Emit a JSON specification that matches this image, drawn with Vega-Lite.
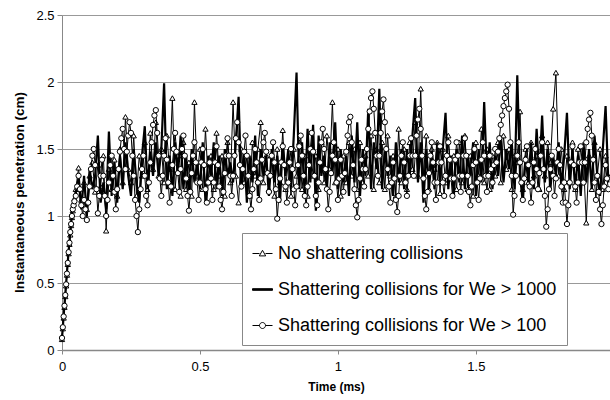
{
"$schema":"https://vega.github.io/schema/vega-lite/v6.json",
"width":548,"height":335,
"autosize":{"type":"none"},
"padding":{"left":62,"top":15,"right":0,"bottom":50},
"config":{"view":{"stroke":null},"font":"Liberation Sans",
"axis":{"labelColor":"#000","titleColor":"#000","labelFontSize":13,"titleFontSize":12,"titleFontWeight":"bold","domainColor":"#888","tickColor":"#888","labelFont":"Liberation Sans","titleFont":"Liberation Sans"}},
"datasets":{
"main":[
{"t":0,"a":0.08,"b":0.09},{"t":0.003,"a":0.16,"b":0.17},{"t":0.006,"a":0.24,"b":0.26},{"t":0.009,"a":0.32,"b":0.34},{"t":0.012,"a":0.40,"b":0.42},{"t":0.015,"a":0.48,"b":0.50},{"t":0.018,"a":0.56,"b":0.58},{"t":0.021,"a":0.64,"b":0.66},{"t":0.024,"a":0.72,"b":0.74},{"t":0.027,"a":0.79,"b":0.81},{"t":0.03,"a":0.86,"b":0.88},{"t":0.033,"a":0.93,"b":0.95},{"t":0.036,"a":0.99,"b":1.01},{"t":0.039,"a":1.04,"b":1.06},{"t":0.042,"a":1.09,"b":1.10},{"t":0.045,"a":1.13,"b":1.14},
{"t":0.05,"a":1.20,"b":1.18},{"t":0.06,"a":1.36,"b":1.28},{"t":0.07,"a":1.12,"b":1.05},{"t":0.08,"a":1.25,"b":1.30},{"t":0.09,"a":1.05,"b":1.00},{"t":0.10,"a":1.30,"b":1.35},{"t":0.11,"a":1.40,"b":1.20},{"t":0.12,"a":1.18,"b":1.30},{"t":0.13,"a":1.38,"b":1.60},{"t":0.14,"a":1.22,"b":1.10},
{"t":0.15,"a":1.45,"b":1.25},{"t":0.16,"a":0.89,"b":1.05},{"t":0.17,"a":1.35,"b":1.63},{"t":0.18,"a":1.20,"b":1.15},{"t":0.19,"a":1.42,"b":1.40},{"t":0.20,"a":1.15,"b":1.10},{"t":0.21,"a":1.50,"b":1.45},{"t":0.22,"a":1.25,"b":1.20},{"t":0.23,"a":1.74,"b":1.55},{"t":0.24,"a":1.35,"b":1.30},
{"t":0.25,"a":1.25,"b":1.15},{"t":0.26,"a":1.60,"b":1.50},{"t":0.27,"a":1.15,"b":1.25},{"t":0.28,"a":1.45,"b":1.10},{"t":0.29,"a":1.30,"b":1.45},{"t":0.30,"a":1.55,"b":1.67},{"t":0.31,"a":1.20,"b":1.20},{"t":0.32,"a":1.62,"b":1.48},{"t":0.33,"a":1.35,"b":1.30},{"t":0.34,"a":1.70,"b":1.55},
{"t":0.35,"a":1.30,"b":1.30},{"t":0.36,"a":1.50,"b":1.50},{"t":0.37,"a":1.25,"b":1.99},{"t":0.38,"a":1.60,"b":1.20},{"t":0.39,"a":1.35,"b":1.45},{"t":0.40,"a":1.88,"b":1.15},{"t":0.41,"a":1.20,"b":1.55},{"t":0.42,"a":1.45,"b":1.30},{"t":0.43,"a":1.15,"b":1.60},{"t":0.44,"a":1.55,"b":1.20},
{"t":0.45,"a":1.20,"b":1.45},{"t":0.46,"a":1.40,"b":1.15},{"t":0.47,"a":1.15,"b":1.50},{"t":0.48,"a":1.85,"b":1.25},{"t":0.49,"a":1.30,"b":1.40},{"t":0.50,"a":1.50,"b":1.20},{"t":0.51,"a":1.20,"b":1.55},{"t":0.52,"a":1.65,"b":1.10},{"t":0.53,"a":1.25,"b":1.45},{"t":0.54,"a":1.45,"b":1.30},
{"t":0.55,"a":1.20,"b":1.55},{"t":0.56,"a":1.62,"b":1.20},{"t":0.57,"a":1.30,"b":1.45},{"t":0.58,"a":1.45,"b":1.15},{"t":0.59,"a":1.15,"b":1.50},{"t":0.60,"a":1.55,"b":1.30},{"t":0.61,"a":1.25,"b":1.40},{"t":0.62,"a":1.85,"b":1.25},{"t":0.63,"a":1.30,"b":1.55},{"t":0.64,"a":1.10,"b":1.89},
{"t":0.65,"a":1.50,"b":1.20},{"t":0.66,"a":1.25,"b":1.50},{"t":0.67,"a":1.45,"b":1.10},{"t":0.68,"a":1.15,"b":1.45},{"t":0.69,"a":1.55,"b":1.25},{"t":0.70,"a":1.30,"b":1.60},{"t":0.71,"a":1.50,"b":1.15},{"t":0.72,"a":1.70,"b":1.50},{"t":0.73,"a":1.25,"b":1.30},{"t":0.74,"a":1.45,"b":1.45},
{"t":0.75,"a":1.20,"b":1.15},{"t":0.76,"a":1.45,"b":1.50},{"t":0.77,"a":1.15,"b":1.25},{"t":0.78,"a":1.50,"b":1.45},{"t":0.79,"a":1.25,"b":1.10},{"t":0.80,"a":1.64,"b":1.55},{"t":0.81,"a":1.20,"b":1.30},{"t":0.82,"a":1.40,"b":1.50},{"t":0.83,"a":1.15,"b":1.20},{"t":0.84,"a":1.50,"b":1.60},
{"t":0.85,"a":1.30,"b":2.07},{"t":0.86,"a":1.55,"b":1.20},{"t":0.87,"a":1.20,"b":1.55},{"t":0.88,"a":1.45,"b":1.15},{"t":0.89,"a":1.15,"b":1.65},{"t":0.90,"a":1.50,"b":1.25},{"t":0.91,"a":1.30,"b":1.68},{"t":0.92,"a":1.45,"b":1.04},{"t":0.93,"a":1.20,"b":1.60},{"t":0.94,"a":1.55,"b":1.30},
{"t":0.95,"a":1.25,"b":1.45},{"t":0.96,"a":1.60,"b":1.20},{"t":0.97,"a":1.35,"b":1.55},{"t":0.98,"a":1.85,"b":1.30},{"t":0.99,"a":1.25,"b":1.70},{"t":1.00,"a":1.50,"b":1.20},{"t":1.01,"a":1.15,"b":1.50},{"t":1.02,"a":1.45,"b":1.25},{"t":1.03,"a":1.25,"b":1.45},{"t":1.04,"a":1.55,"b":1.15},
{"t":1.05,"a":1.30,"b":1.60},{"t":1.06,"a":1.50,"b":1.25},{"t":1.07,"a":1.20,"b":1.70},{"t":1.08,"a":1.55,"b":1.15},{"t":1.09,"a":1.25,"b":1.50},{"t":1.10,"a":1.45,"b":1.30},{"t":1.11,"a":1.30,"b":1.80},{"t":1.12,"a":1.60,"b":1.20},{"t":1.13,"a":1.20,"b":1.55},{"t":1.14,"a":1.50,"b":1.35},
{"t":1.15,"a":1.25,"b":1.95},{"t":1.16,"a":1.55,"b":1.20},{"t":1.17,"a":1.20,"b":1.50},{"t":1.18,"a":1.60,"b":1.30},{"t":1.19,"a":1.30,"b":1.45},{"t":1.20,"a":1.45,"b":1.15},{"t":1.21,"a":1.15,"b":1.55},{"t":1.22,"a":1.65,"b":1.25},{"t":1.23,"a":1.25,"b":1.50},{"t":1.24,"a":1.50,"b":1.20},
{"t":1.25,"a":1.20,"b":1.50},{"t":1.26,"a":1.55,"b":1.30},{"t":1.27,"a":1.35,"b":1.60},{"t":1.28,"a":1.70,"b":1.88},{"t":1.29,"a":1.30,"b":1.25},{"t":1.30,"a":1.95,"b":1.55},{"t":1.31,"a":1.30,"b":1.10},{"t":1.32,"a":1.60,"b":1.50},{"t":1.33,"a":1.20,"b":1.20},{"t":1.34,"a":1.50,"b":1.45},
{"t":1.35,"a":1.35,"b":1.20},{"t":1.36,"a":1.55,"b":1.55},{"t":1.37,"a":1.17,"b":1.25},{"t":1.38,"a":1.50,"b":1.50},{"t":1.39,"a":1.25,"b":1.77},{"t":1.40,"a":1.60,"b":1.20},{"t":1.41,"a":1.30,"b":1.45},{"t":1.42,"a":1.45,"b":1.15},{"t":1.43,"a":1.20,"b":1.50},{"t":1.44,"a":1.55,"b":1.25},
{"t":1.45,"a":1.25,"b":1.60},{"t":1.46,"a":1.60,"b":1.20},{"t":1.47,"a":1.20,"b":1.45},{"t":1.48,"a":1.45,"b":1.30},{"t":1.49,"a":1.15,"b":1.55},{"t":1.50,"a":1.55,"b":1.15},{"t":1.51,"a":1.30,"b":1.50},{"t":1.52,"a":1.65,"b":1.25},{"t":1.53,"a":1.25,"b":1.85},{"t":1.54,"a":1.50,"b":1.30},
{"t":1.55,"a":1.20,"b":1.55},{"t":1.56,"a":1.45,"b":1.20},{"t":1.57,"a":1.30,"b":1.45},{"t":1.58,"a":1.55,"b":1.30},{"t":1.59,"a":1.25,"b":1.60},{"t":1.60,"a":1.60,"b":1.25},{"t":1.61,"a":1.35,"b":1.50},{"t":1.62,"a":1.50,"b":1.35},{"t":1.63,"a":1.20,"b":1.55},{"t":1.64,"a":1.45,"b":1.20},
{"t":1.65,"a":1.40,"b":2.05},{"t":1.66,"a":1.78,"b":1.30},{"t":1.67,"a":1.20,"b":1.10},{"t":1.68,"a":1.50,"b":1.45},{"t":1.69,"a":1.25,"b":1.25},{"t":1.70,"a":1.55,"b":1.55},{"t":1.71,"a":1.30,"b":1.20},{"t":1.72,"a":1.45,"b":1.65},{"t":1.73,"a":1.20,"b":1.30},{"t":1.74,"a":1.60,"b":1.75},
{"t":1.75,"a":1.30,"b":1.25},{"t":1.76,"a":1.55,"b":1.50},{"t":1.77,"a":1.40,"b":1.20},{"t":1.78,"a":1.80,"b":1.45},{"t":1.79,"a":2.07,"b":1.30},{"t":1.80,"a":1.30,"b":1.55},{"t":1.81,"a":1.50,"b":1.20},{"t":1.82,"a":1.20,"b":1.45},{"t":1.83,"a":1.45,"b":1.77},{"t":1.84,"a":1.25,"b":1.20},
{"t":1.85,"a":1.55,"b":1.50},{"t":1.86,"a":1.20,"b":1.20},{"t":1.87,"a":1.50,"b":1.45},{"t":1.88,"a":1.25,"b":1.15},{"t":1.89,"a":1.40,"b":1.55},{"t":1.90,"a":0.95,"b":1.25},{"t":1.91,"a":1.45,"b":1.50},{"t":1.92,"a":1.20,"b":1.20},{"t":1.93,"a":1.55,"b":1.60},{"t":1.94,"a":1.30,"b":1.30},
{"t":1.95,"a":1.50,"b":1.15},{"t":1.96,"a":1.20,"b":1.50},{"t":1.97,"a":1.45,"b":1.82},{"t":1.98,"a":1.30,"b":1.25}
],
"cser":[
{"t":0,"c":0.09},{"t":0.003,"c":0.17},{"t":0.006,"c":0.25},{"t":0.009,"c":0.33},{"t":0.012,"c":0.41},{"t":0.015,"c":0.49},{"t":0.018,"c":0.57},{"t":0.021,"c":0.65},{"t":0.024,"c":0.73},{"t":0.027,"c":0.80},{"t":0.03,"c":0.88},{"t":0.033,"c":0.94},{"t":0.036,"c":1.00},{"t":0.039,"c":1.05},{"t":0.042,"c":1.08},{"t":0.045,"c":1.11},
{"t":0.050,"c":1.15},{"t":0.055,"c":1.22},{"t":0.060,"c":1.30},{"t":0.065,"c":1.20},{"t":0.070,"c":1.08},{"t":0.075,"c":1.00},{"t":0.080,"c":1.12},{"t":0.085,"c":1.05},{"t":0.090,"c":0.97},{"t":0.095,"c":1.10},{"t":0.100,"c":1.22},{"t":0.105,"c":1.35},{"t":0.110,"c":1.45},{"t":0.115,"c":1.50},{"t":0.120,"c":1.38},{"t":0.125,"c":1.20},{"t":0.130,"c":1.02},{"t":0.135,"c":1.15},{"t":0.140,"c":1.30},{"t":0.145,"c":1.42},
{"t":0.150,"c":1.30},{"t":0.155,"c":1.15},{"t":0.160,"c":1.00},{"t":0.165,"c":1.12},{"t":0.170,"c":1.25},{"t":0.175,"c":1.38},{"t":0.180,"c":1.45},{"t":0.185,"c":1.30},{"t":0.190,"c":1.18},{"t":0.195,"c":1.05},{"t":0.200,"c":1.20},{"t":0.205,"c":1.35},{"t":0.210,"c":1.48},{"t":0.215,"c":1.58},{"t":0.220,"c":1.65},{"t":0.225,"c":1.50},{"t":0.230,"c":1.35},{"t":0.235,"c":1.48},{"t":0.240,"c":1.60},{"t":0.245,"c":1.70},
{"t":0.250,"c":1.62},{"t":0.255,"c":1.45},{"t":0.260,"c":1.30},{"t":0.265,"c":1.12},{"t":0.270,"c":1.00},{"t":0.275,"c":0.88},{"t":0.280,"c":1.05},{"t":0.285,"c":1.20},{"t":0.290,"c":1.35},{"t":0.295,"c":1.45},{"t":0.300,"c":1.30},{"t":0.305,"c":1.15},{"t":0.310,"c":1.08},{"t":0.315,"c":1.25},{"t":0.320,"c":1.40},{"t":0.325,"c":1.55},{"t":0.330,"c":1.68},{"t":0.335,"c":1.75},{"t":0.340,"c":1.79},{"t":0.345,"c":1.62},
{"t":0.350,"c":1.45},{"t":0.355,"c":1.28},{"t":0.360,"c":1.15},{"t":0.365,"c":1.30},{"t":0.370,"c":1.45},{"t":0.375,"c":1.58},{"t":0.380,"c":1.42},{"t":0.385,"c":1.25},{"t":0.390,"c":1.10},{"t":0.395,"c":1.22},{"t":0.400,"c":1.38},{"t":0.405,"c":1.50},{"t":0.410,"c":1.62},{"t":0.415,"c":1.48},{"t":0.420,"c":1.32},{"t":0.425,"c":1.18},{"t":0.430,"c":1.35},{"t":0.435,"c":1.50},{"t":0.440,"c":1.60},{"t":0.445,"c":1.45},
{"t":0.450,"c":1.28},{"t":0.455,"c":1.15},{"t":0.460,"c":1.04},{"t":0.465,"c":1.18},{"t":0.470,"c":1.32},{"t":0.475,"c":1.45},{"t":0.480,"c":1.55},{"t":0.485,"c":1.40},{"t":0.490,"c":1.25},{"t":0.495,"c":1.12},{"t":0.500,"c":1.25},{"t":0.505,"c":1.40},{"t":0.510,"c":1.50},{"t":0.515,"c":1.38},{"t":0.520,"c":1.20},{"t":0.525,"c":1.10},{"t":0.530,"c":1.25},{"t":0.535,"c":1.40},{"t":0.540,"c":1.28},{"t":0.545,"c":1.12},
{"t":0.550,"c":1.25},{"t":0.555,"c":1.40},{"t":0.560,"c":1.52},{"t":0.565,"c":1.38},{"t":0.570,"c":1.22},{"t":0.575,"c":1.12},{"t":0.580,"c":1.05},{"t":0.585,"c":1.18},{"t":0.590,"c":1.32},{"t":0.595,"c":1.45},{"t":0.600,"c":1.58},{"t":0.605,"c":1.45},{"t":0.610,"c":1.30},{"t":0.615,"c":1.15},{"t":0.620,"c":1.30},{"t":0.625,"c":1.45},{"t":0.630,"c":1.58},{"t":0.635,"c":1.70},{"t":0.640,"c":1.55},{"t":0.645,"c":1.38},
{"t":0.650,"c":1.22},{"t":0.655,"c":1.35},{"t":0.660,"c":1.48},{"t":0.665,"c":1.60},{"t":0.670,"c":1.45},{"t":0.675,"c":1.30},{"t":0.680,"c":1.15},{"t":0.685,"c":1.05},{"t":0.690,"c":1.20},{"t":0.695,"c":1.35},{"t":0.700,"c":1.50},{"t":0.705,"c":1.40},{"t":0.710,"c":1.25},{"t":0.715,"c":1.12},{"t":0.720,"c":1.28},{"t":0.725,"c":1.42},{"t":0.730,"c":1.55},{"t":0.735,"c":1.62},{"t":0.740,"c":1.48},{"t":0.745,"c":1.32},
{"t":0.750,"c":1.18},{"t":0.755,"c":1.30},{"t":0.760,"c":1.45},{"t":0.765,"c":1.55},{"t":0.770,"c":1.40},{"t":0.775,"c":1.20},{"t":0.780,"c":0.98},{"t":0.785,"c":1.12},{"t":0.790,"c":1.28},{"t":0.795,"c":1.40},{"t":0.800,"c":1.52},{"t":0.805,"c":1.38},{"t":0.810,"c":1.22},{"t":0.815,"c":1.10},{"t":0.820,"c":1.25},{"t":0.825,"c":1.40},{"t":0.830,"c":1.50},{"t":0.835,"c":1.35},{"t":0.840,"c":1.20},{"t":0.845,"c":1.08},
{"t":0.850,"c":1.22},{"t":0.855,"c":1.38},{"t":0.860,"c":1.52},{"t":0.865,"c":1.60},{"t":0.870,"c":1.45},{"t":0.875,"c":1.30},{"t":0.880,"c":1.15},{"t":0.885,"c":1.08},{"t":0.890,"c":1.22},{"t":0.895,"c":1.38},{"t":0.900,"c":1.50},{"t":0.905,"c":1.62},{"t":0.910,"c":1.48},{"t":0.915,"c":1.30},{"t":0.920,"c":1.15},{"t":0.925,"c":1.08},{"t":0.930,"c":1.25},{"t":0.935,"c":1.40},{"t":0.940,"c":1.55},{"t":0.945,"c":1.65},
{"t":0.950,"c":1.50},{"t":0.955,"c":1.35},{"t":0.960,"c":1.20},{"t":0.965,"c":1.05},{"t":0.970,"c":1.18},{"t":0.975,"c":1.32},{"t":0.980,"c":1.45},{"t":0.985,"c":1.55},{"t":0.990,"c":1.42},{"t":0.995,"c":1.25},{"t":1.000,"c":1.12},{"t":1.005,"c":1.28},{"t":1.010,"c":1.42},{"t":1.015,"c":1.30},{"t":1.020,"c":1.18},{"t":1.025,"c":1.32},{"t":1.030,"c":1.48},{"t":1.035,"c":1.60},{"t":1.040,"c":1.70},{"t":1.045,"c":1.74},
{"t":1.050,"c":1.55},{"t":1.055,"c":1.38},{"t":1.060,"c":1.20},{"t":1.065,"c":1.08},{"t":1.070,"c":0.99},{"t":1.075,"c":1.12},{"t":1.080,"c":1.28},{"t":1.085,"c":1.42},{"t":1.090,"c":1.35},{"t":1.095,"c":1.22},{"t":1.100,"c":1.35},{"t":1.105,"c":1.50},{"t":1.110,"c":1.65},{"t":1.115,"c":1.78},{"t":1.120,"c":1.88},{"t":1.125,"c":1.93},{"t":1.130,"c":1.80},{"t":1.135,"c":1.62},{"t":1.140,"c":1.45},{"t":1.145,"c":1.30},
{"t":1.150,"c":1.45},{"t":1.155,"c":1.62},{"t":1.160,"c":1.78},{"t":1.165,"c":1.87},{"t":1.170,"c":1.70},{"t":1.175,"c":1.50},{"t":1.180,"c":1.35},{"t":1.185,"c":1.22},{"t":1.190,"c":1.10},{"t":1.195,"c":1.25},{"t":1.200,"c":1.40},{"t":1.205,"c":1.28},{"t":1.210,"c":1.12},{"t":1.215,"c":1.03},{"t":1.220,"c":1.15},{"t":1.225,"c":1.30},{"t":1.230,"c":1.45},{"t":1.235,"c":1.55},{"t":1.240,"c":1.40},{"t":1.245,"c":1.25},
{"t":1.250,"c":1.15},{"t":1.255,"c":1.30},{"t":1.260,"c":1.45},{"t":1.265,"c":1.58},{"t":1.270,"c":1.45},{"t":1.275,"c":1.30},{"t":1.280,"c":1.45},{"t":1.285,"c":1.60},{"t":1.290,"c":1.72},{"t":1.295,"c":1.80},{"t":1.300,"c":1.65},{"t":1.305,"c":1.45},{"t":1.310,"c":1.28},{"t":1.315,"c":1.15},{"t":1.320,"c":1.05},{"t":1.325,"c":1.18},{"t":1.330,"c":1.32},{"t":1.335,"c":1.45},{"t":1.340,"c":1.55},{"t":1.345,"c":1.40},
{"t":1.350,"c":1.25},{"t":1.355,"c":1.12},{"t":1.360,"c":1.25},{"t":1.365,"c":1.40},{"t":1.370,"c":1.52},{"t":1.375,"c":1.40},{"t":1.380,"c":1.25},{"t":1.385,"c":1.15},{"t":1.390,"c":1.30},{"t":1.395,"c":1.45},{"t":1.400,"c":1.55},{"t":1.405,"c":1.42},{"t":1.410,"c":1.28},{"t":1.415,"c":1.15},{"t":1.420,"c":1.28},{"t":1.425,"c":1.42},{"t":1.430,"c":1.55},{"t":1.435,"c":1.45},{"t":1.440,"c":1.30},{"t":1.445,"c":1.18},
{"t":1.450,"c":1.30},{"t":1.455,"c":1.45},{"t":1.460,"c":1.58},{"t":1.465,"c":1.45},{"t":1.470,"c":1.30},{"t":1.475,"c":1.18},{"t":1.480,"c":1.08},{"t":1.485,"c":1.22},{"t":1.490,"c":1.38},{"t":1.495,"c":1.50},{"t":1.500,"c":1.40},{"t":1.505,"c":1.25},{"t":1.510,"c":1.12},{"t":1.515,"c":1.28},{"t":1.520,"c":1.42},{"t":1.525,"c":1.55},{"t":1.530,"c":1.45},{"t":1.535,"c":1.30},{"t":1.540,"c":1.18},{"t":1.545,"c":1.30},
{"t":1.550,"c":1.45},{"t":1.555,"c":1.35},{"t":1.560,"c":1.25},{"t":1.565,"c":1.38},{"t":1.570,"c":1.50},{"t":1.575,"c":1.40},{"t":1.580,"c":1.48},{"t":1.585,"c":1.58},{"t":1.590,"c":1.68},{"t":1.595,"c":1.75},{"t":1.600,"c":1.82},{"t":1.605,"c":1.88},{"t":1.610,"c":1.93},{"t":1.615,"c":1.98},{"t":1.620,"c":1.80},{"t":1.625,"c":1.55},{"t":1.630,"c":1.30},{"t":1.635,"c":1.01},{"t":1.640,"c":1.15},{"t":1.645,"c":1.30},
{"t":1.650,"c":1.45},{"t":1.655,"c":1.55},{"t":1.660,"c":1.40},{"t":1.665,"c":1.25},{"t":1.670,"c":1.12},{"t":1.675,"c":1.28},{"t":1.680,"c":1.42},{"t":1.685,"c":1.52},{"t":1.690,"c":1.38},{"t":1.695,"c":1.22},{"t":1.700,"c":1.10},{"t":1.705,"c":1.25},{"t":1.710,"c":1.40},{"t":1.715,"c":1.50},{"t":1.720,"c":1.35},{"t":1.725,"c":1.20},{"t":1.730,"c":1.32},{"t":1.735,"c":1.45},{"t":1.740,"c":1.55},{"t":1.745,"c":1.35},
{"t":1.750,"c":1.15},{"t":1.755,"c":0.92},{"t":1.760,"c":1.05},{"t":1.765,"c":1.20},{"t":1.770,"c":1.35},{"t":1.775,"c":1.45},{"t":1.780,"c":1.30},{"t":1.785,"c":1.15},{"t":1.790,"c":1.28},{"t":1.795,"c":1.40},{"t":1.800,"c":1.50},{"t":1.805,"c":1.38},{"t":1.810,"c":1.22},{"t":1.815,"c":1.10},{"t":1.820,"c":1.25},{"t":1.825,"c":1.10},{"t":1.830,"c":0.94},{"t":1.835,"c":1.08},{"t":1.840,"c":1.25},{"t":1.845,"c":1.40},
{"t":1.850,"c":1.52},{"t":1.855,"c":1.38},{"t":1.860,"c":1.22},{"t":1.865,"c":1.10},{"t":1.870,"c":1.25},{"t":1.875,"c":1.40},{"t":1.880,"c":1.52},{"t":1.885,"c":1.40},{"t":1.890,"c":1.25},{"t":1.895,"c":1.40},{"t":1.900,"c":1.55},{"t":1.905,"c":1.65},{"t":1.910,"c":1.72},{"t":1.915,"c":1.77},{"t":1.920,"c":1.60},{"t":1.925,"c":1.42},{"t":1.930,"c":1.25},{"t":1.935,"c":1.12},{"t":1.940,"c":1.30},{"t":1.945,"c":1.18},
{"t":1.950,"c":1.05},{"t":1.955,"c":0.94},{"t":1.960,"c":1.08},{"t":1.965,"c":1.22},{"t":1.970,"c":1.38},{"t":1.975,"c":1.28},{"t":1.980,"c":1.20}
]},
"data":{"name":"main"},
"encoding":{
"x":{"field":"t","type":"quantitative","scale":{"domain":[0,1.986],"nice":false,"zero":false},
"axis":{"title":"Time (ms)","values":[0,0.5,1,1.5],"format":"~g","grid":false,"domainWidth":1.5,"tickSize":4,"labelPadding":6,"titlePadding":8,"labelFlush":false}}
},
"layer":[
{"mark":{"type":"line","color":"#000","strokeWidth":1},
"encoding":{"y":{"field":"a","type":"quantitative","scale":{"domain":[0,2.5],"nice":false},
"axis":{"title":"Instantaneous penetration (cm)","titleFontSize":13.5,"titleY":177,"values":[0,0.5,1,1.5,2,2.5],"format":"~g","grid":true,"gridColor":"#999","tickSize":5,"labelPadding":3,"titlePadding":9}}}},
{"mark":{"type":"point","shape":"triangle-up","filled":true,"fill":"#fff","stroke":"#000","strokeWidth":1,"size":28,"opacity":1},
"encoding":{"y":{"field":"a","type":"quantitative"}}},
{"mark":{"type":"line","color":"#000","strokeWidth":2.2},
"encoding":{"y":{"field":"b","type":"quantitative"}}},
{"data":{"name":"cser"},"mark":{"type":"line","color":"#000","strokeWidth":1},
"encoding":{"y":{"field":"c","type":"quantitative"}}},
{"data":{"name":"cser"},"mark":{"type":"point","shape":"circle","filled":true,"fill":"#fff","stroke":"#000","strokeWidth":1,"size":28,"opacity":1},
"encoding":{"y":{"field":"c","type":"quantitative"}}},
{"data":{"values":[]},
"mark":{"type":"point","filled":true,"strokeWidth":1,"opacity":1},
"encoding":{
"shape":{"field":"k","type":"nominal","scale":{"domain":["No shattering collisions","Shattering collisions for We > 1000","Shattering collisions for We > 100"],"range":["M-1,0H-0.3M0.3,0H1M0,-0.32L0.32,0.24H-0.32Z","M-1,-0.08H1V0.08H-1Z","M-1,0H-0.3M0.3,0H1M0.3,0A0.3,0.3 0 1,1 -0.3,0A0.3,0.3 0 1,1 0.3,0Z"]},
"legend":{"title":null,"orient":"none","legendX":180,"legendY":218,"direction":"vertical","symbolSize":400,"symbolStrokeWidth":1,"symbolOpacity":1,"labelFontSize":18,"labelFont":"Liberation Sans","labelColor":"#000","labelLimit":400,"labelOffset":5,"rowPadding":16,"padding":10,"strokeColor":"#888","fillColor":"#fff"}},
"fill":{"field":"k","type":"nominal","scale":{"domain":["No shattering collisions","Shattering collisions for We > 1000","Shattering collisions for We > 100"],"range":["#fff","#000","#fff"]}},
"stroke":{"field":"k","type":"nominal","scale":{"domain":["No shattering collisions","Shattering collisions for We > 1000","Shattering collisions for We > 100"],"range":["#000","#000","#000"]}}
}}
]
}
